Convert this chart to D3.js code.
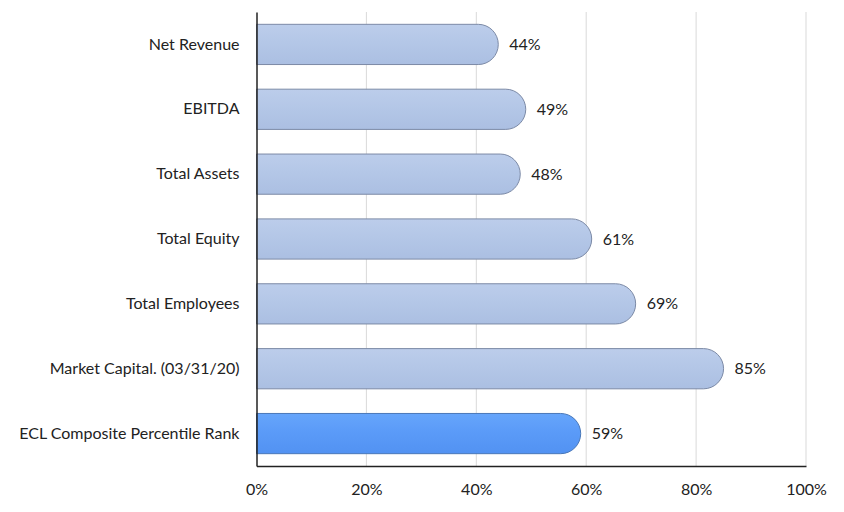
<!DOCTYPE html>
<html><head><meta charset="utf-8">
<script src="https://cdn.jsdelivr.net/npm/d3@7"></script>
<style>body{margin:0;background:#fff}text{font-family:Lato,"Open Sans",sans-serif;fill:#222}</style>
</head><body><svg id="c" width="844" height="512"></svg>
<script>
const categories = ["Net Revenue","EBITDA","Total Assets","Total Equity","Total Employees","Market Capital. (03/31/20)","ECL Composite Percentile Rank"];
const values = [0.44,0.49,0.48,0.61,0.69,0.85,0.59];
const highlight = [false,false,false,false,false,false,true];
const ticks = [0,0.2,0.4,0.6,0.8,1.0];

const svg = d3.select("#c");
const m = {l:256.5, r:806, t:12, b:466};
const FS = 16;
const x = d3.scaleLinear().domain([0,1]).range([m.l,m.r]);
const y = d3.scaleBand().domain(categories).range([m.t,m.b]).paddingInner(0.38).paddingOuter(0.19);

const defs = svg.append("defs");
function grad(id, c1, c2, c3){
  const g = defs.append("linearGradient").attr("id",id).attr("x1",0).attr("y1",0).attr("x2",0).attr("y2",1);
  g.append("stop").attr("offset","0%").attr("stop-color",c1);
  g.append("stop").attr("offset","45%").attr("stop-color",c2);
  g.append("stop").attr("offset","100%").attr("stop-color",c3);
}
grad("gl","#bccdeb","#b4c7e7","#abbfe2");
grad("gh","#66a5fb","#5b9bf8","#5292f2");

// gridlines
svg.append("g").selectAll("line").data(ticks.slice(1)).join("line")
  .attr("x1",d=>x(d)).attr("x2",d=>x(d)).attr("y1",m.t).attr("y2",m.b)
  .attr("stroke","#d9d9d9").attr("stroke-width",1);

// bars
const bh = y.bandwidth();
function barPath(v, cat){
  const x0 = x(0), x1 = x(v), y0 = y(cat), h = bh, r = Math.min(h/2, 20);
  return `M${x0},${y0} H${x1-r} A${r},${h/2} 0 0 1 ${x1},${y0+h/2} A${r},${h/2} 0 0 1 ${x1-r},${y0+h} H${x0} Z`;
}
svg.append("g").selectAll("path").data(categories).join("path")
  .attr("d",(c,i)=>barPath(values[i],c))
  .attr("fill",(c,i)=>highlight[i]?"url(#gh)":"url(#gl)")
  .attr("stroke",(c,i)=>highlight[i]?"#4a78b8":"#7c8aa6")
  .attr("stroke-width",1);

// value labels
svg.append("g").selectAll("text").data(categories).join("text")
  .attr("x",(c,i)=>x(values[i])+11).attr("y",c=>y(c)+bh/2).attr("dy","0.35em")
  .attr("font-size",FS).text((c,i)=>Math.round(values[i]*100)+"%");

// axes
const xa = svg.append("g").attr("transform",`translate(0,${m.b})`)
  .call(d3.axisBottom(x).tickValues(ticks).tickFormat(d=>Math.round(d*100)+"%").tickSize(0).tickPadding(18));
xa.select(".domain").attr("stroke","#222").attr("stroke-width",1.5);
xa.selectAll("text").attr("font-size",FS).style("font-family","Lato,'Open Sans',sans-serif").attr("fill","#222");

const ya = svg.append("g").attr("transform",`translate(${m.l},0)`)
  .call(d3.axisLeft(y).tickSize(0).tickPadding(17));
ya.select(".domain").attr("stroke","#222").attr("stroke-width",1.5);
ya.selectAll("text").attr("font-size",FS).style("font-family","Lato,'Open Sans',sans-serif").attr("fill","#222");
</script></body></html>
